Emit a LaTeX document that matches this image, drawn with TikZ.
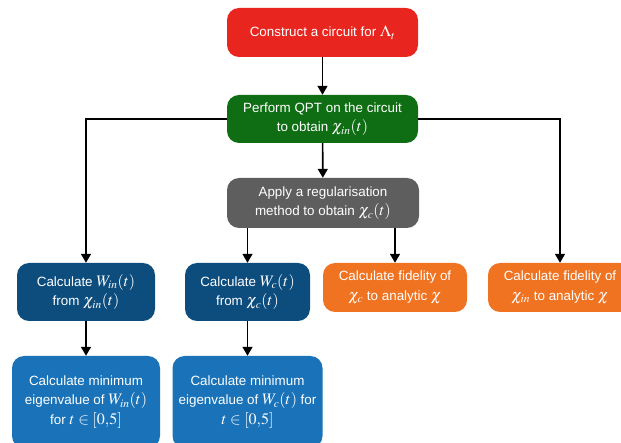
\documentclass[tikz,border=0pt]{standalone}
\usepackage{mathptmx}
\usepackage{fontspec}
\setmainfont{Liberation Sans}
\usetikzlibrary{arrows.meta}
\DeclareMathSizes{13.4}{16}{11.5}{9}

\definecolor{stagered}{HTML}{E8261F}
\definecolor{stagegreen}{HTML}{0F6E14}
\definecolor{stagegrey}{HTML}{5E5E5E}
\definecolor{stagenavy}{HTML}{0C4D7E}
\definecolor{stageblue}{HTML}{1A73B8}
\definecolor{stageorange}{HTML}{F07322}

\tikzset{
  stage/.style={rounded corners=12pt, text=white, align=center, inner sep=0pt,
    font=\fontsize{13.4}{19.5}\selectfont},
  flow/.style={line width=1.6pt, -{Triangle[width=10pt,length=9pt]}}
}

\begin{document}
\begin{tikzpicture}[x=1pt, y=1pt]
  \useasboundingbox (0,0) rectangle (621,-443);
  \clip (0,0) rectangle (621,-443);
  % top of the chain
  \node[stage, fill=stagered, minimum width=191pt, minimum height=49pt]
    (construct) at (322.5,-32.5) {Construct a circuit for $\Lambda_t$};
  \node[stage, fill=stagegreen, minimum width=191pt, minimum height=48pt]
    (qpt) at (322.5,-119) {Perform QPT on the circuit\\to obtain $\chi_{in}(t)$};
  \node[stage, fill=stagegrey, minimum width=192pt, minimum height=50pt]
    (regular) at (323,-203) {Apply a regularisation\\method to obtain $\chi_c(t)$};
  % middle row
  \node[stage, fill=stagenavy, minimum width=138pt, minimum height=58pt]
    (wigin) at (86,-292) {Calculate $W_{in}(t)$\\from $\chi_{in}(t)$};
  \node[stage, fill=stagenavy, minimum width=125pt, minimum height=58pt]
    (wigc) at (247.5,-292) {Calculate $W_c(t)$\\from $\chi_c(t)$};
  \node[stage, fill=stageorange, minimum width=144pt, minimum height=49pt]
    (fidc) at (395,-287.5) {Calculate fidelity of\\$\chi_c$ to analytic $\chi$};
  \node[stage, fill=stageorange, minimum width=144pt, minimum height=49pt]
    (fidin) at (560,-287.5) {Calculate fidelity of\\$\chi_{in}$ to analytic $\chi$};
  % bottom row
  \node[stage, fill=stageblue, minimum width=148pt, minimum height=92pt]
    (mineigin) at (86,-402) {Calculate minimum\\eigenvalue of $W_{in}(t)$\\for $t\in[0{,}5]$};
  \node[stage, fill=stageblue, minimum width=150pt, minimum height=92pt]
    (mineigc) at (247.5,-402) {Calculate minimum\\eigenvalue of $W_c(t)$ for\\$t\in[0{,}5]$};

  \draw[flow] (construct) -- (qpt);
  \draw[flow] (qpt) -- (regular);
  \draw[flow] (qpt.west) -| (wigin.north);
  \draw[flow] (qpt.east) -| (fidin.north);
  \draw[flow] (regular.south -| wigc.north) -- (wigc.north);
  \draw[flow] (regular.south -| fidc.north) -- (fidc.north);
  \draw[flow] (wigin) -- (mineigin);
  \draw[flow] (wigc) -- (mineigc);
\end{tikzpicture}
\end{document}
